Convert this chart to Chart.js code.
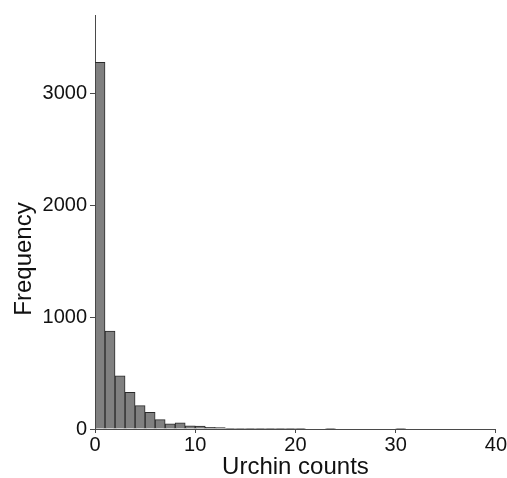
<!DOCTYPE html>
<html>
<head>
<meta charset="utf-8">
<script src="https://cdn.jsdelivr.net/npm/chart.js@4.4.0/dist/chart.umd.min.js"></script>
<style>
  html, body { margin: 0; padding: 0; background: #ffffff; }
  #wrap { width: 507px; height: 478px; position: relative; }
</style>
</head>
<body>
<div id="wrap"><canvas id="c" width="507" height="478"></canvas></div>
<script>
// Histogram of urchin counts: bins of width 1, starting at 0
const binStarts = [0,1,2,3,4,5,6,7,8,9,10,11,12,13,14,15,16,17,18,19,20,21,22,23,24,25,26,27,28,29,30,31,32,33,34,35,36,37,38,39];
const frequencies = [3276,876,476,327,209,148,84,46,55,28,25,16,13,6,4,3,3,2,2,1,2,0,0,5,0,0,0,0,0,0,4,0,0,0,0,0,0,0,0,0];
const xTicks = [0,10,20,30,40];
const yTicks = [0,1000,2000,3000];
const xTitle = 'Urchin counts';
const yTitle = 'Frequency';

const FONT = '"Liberation Sans", Arial, Helvetica, sans-serif';
const AXIS = '#4a4a4a';

const points = binStarts.map((s, i) => ({ x: s + 0.5, y: frequencies[i] }));

const titlePlugin = {
  id: 'titles',
  afterDraw(chart) {
    const ctx = chart.ctx;
    const area = chart.chartArea;
    ctx.save();
    ctx.fillStyle = '#111';
    ctx.font = '24px ' + FONT;
    ctx.textAlign = 'center';
    ctx.textBaseline = 'alphabetic';
    ctx.fillText(xTitle, (area.left + area.right) / 2, 474);
    ctx.translate(31, 259);
    ctx.rotate(-Math.PI / 2);
    ctx.fillText(yTitle, 0, 0);
    ctx.restore();
  }
};

new Chart(document.getElementById('c'), {
  type: 'bar',
  data: {
    datasets: [{
      data: points,
      backgroundColor: '#808080',
      borderColor: '#2a2a2a',
      borderWidth: 1,
      barPercentage: 1.0,
      categoryPercentage: 1.0
    }]
  },
  options: {
    responsive: false,
    animation: false,
    layout: { padding: { left: 0, right: 11, top: 12, bottom: 0 } },
    plugins: { legend: { display: false }, tooltip: { enabled: false } },
    scales: {
      x: {
        type: 'linear',
        min: 0,
        max: 40,
        offset: false,
        afterBuildTicks(scale) { scale.ticks = xTicks.map(v => ({ value: v })); },
        afterFit(scale) { scale.height = 49; },
        ticks: { color: '#111', font: { family: FONT, size: 20 }, padding: 0, maxRotation: 0, autoSkip: false,
                 callback: v => String(v) },
        grid: { display: true, offset: false, drawOnChartArea: false, drawTicks: true, tickLength: 4, color: AXIS },
        border: { display: true, color: AXIS, width: 1 }
      },
      y: {
        type: 'linear',
        min: 0,
        max: 3700,
        afterBuildTicks(scale) { scale.ticks = yTicks.map(v => ({ value: v })); },
        afterFit(scale) { scale.width = 95; },
        ticks: { color: '#111', font: { family: FONT, size: 20 }, padding: 3, autoSkip: false, includeBounds: false,
                 callback: v => String(v) },
        grid: { display: true, offset: false, drawOnChartArea: false, drawTicks: true, tickLength: 5, color: AXIS },
        border: { display: true, color: AXIS, width: 1 }
      }
    }
  },
  plugins: [titlePlugin]
});
</script>
</body>
</html>
